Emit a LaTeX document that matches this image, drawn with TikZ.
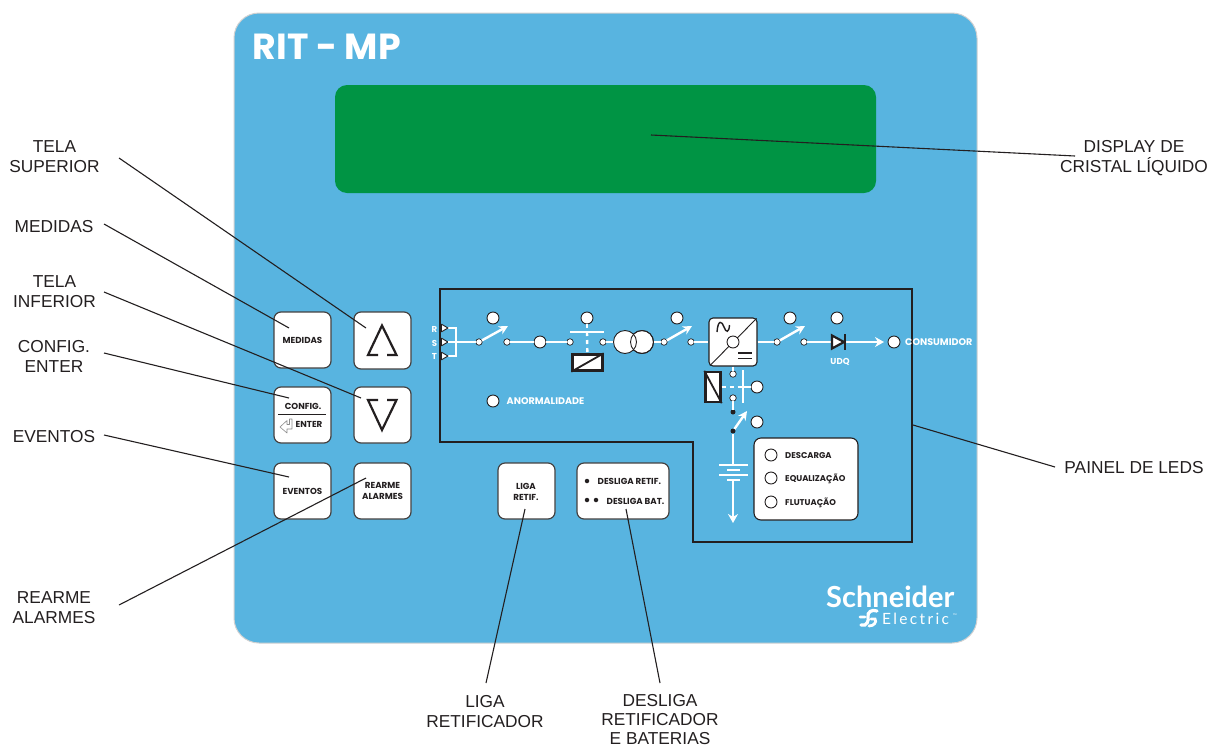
\documentclass[tikz,border=0pt]{standalone}
\usepackage{fontspec}
\setmainfont{Liberation Sans}
\newfontfamily\geo{Poppins}
\newfontfamily\latb{Lato}
\newfontfamily\lats{Lato}[LetterSpace=15]
\usetikzlibrary{arrows.meta}
\definecolor{panelblue}{RGB}{88,180,224}
\definecolor{dispgreen}{RGB}{0,148,68}
\definecolor{ink}{RGB}{35,31,32}
\tikzset{
  lbl/.style={align=center,font=\fontsize{17.3}{20}\selectfont,text=ink,inner sep=0pt},
  leader/.style={draw=ink,line width=1.1pt},
  btn/.style={draw=ink!85,line width=1.2pt,fill=white,rounded corners=7pt},
  btxt/.style={font=\geo\bfseries\fontsize{8.7}{11}\selectfont,text=ink,align=center,inner sep=0pt},
  wtxt/.style={font=\geo\bfseries\fontsize{9.6}{10}\selectfont,text=white,inner sep=0pt},
  wsmall/.style={font=\geo\bfseries\fontsize{8.6}{10}\selectfont,text=white,inner sep=0pt},
  ledtxt/.style={font=\geo\bfseries\fontsize{8.4}{10}\selectfont,text=ink,inner sep=0pt,anchor=west},
  lamp/.style={circle,draw=ink,line width=.9pt,fill=white,minimum size=12pt,inner sep=0pt,outer sep=0pt},
  term/.style={circle,draw=ink,line width=.7pt,fill=white,minimum size=6.5pt,inner sep=0pt,outer sep=0pt},
  bdot/.style={circle,fill=ink,minimum size=5pt,inner sep=0pt,outer sep=0pt},
  wire/.style={draw=white,line width=2.4pt},
  dashwire/.style={draw=white,line width=2.4pt,dash pattern=on 4pt off 4pt},
  arm/.style={draw=white,line width=2.4pt,-{Stealth[length=9pt,width=9pt]}},
  relay/.style={draw=ink,line width=2.4pt,fill=white},
  glyph/.style={draw=ink,line width=2.2pt,line join=miter}
}
\begin{document}
\begin{tikzpicture}[x=1pt,y=-1pt]
\useasboundingbox (0,0) rectangle (1209,747);
\fill[white] (0,0) rectangle (1209,747);
% panel
\node[draw=black!18,line width=1pt,fill=panelblue,rounded corners=25pt,minimum width=743pt,minimum height=630pt,inner sep=0pt] (panel) at (605.5,328) {};
\node[fill=dispgreen,rounded corners=12pt,minimum width=541pt,minimum height=108pt,inner sep=0pt] (display) at (605.5,139) {};
\node[anchor=west,inner sep=0pt,text=white,font=\geo\bfseries\fontsize{36.3}{40}\selectfont] (title) at (252.5,46.5) {RIT - MP};
% LED outline
\draw[ink,line width=1.15pt] (440,289) -- (912,289) -- (912,542) -- (693,542) -- (693,442) -- (440,442) -- cycle;
% buttons
\node[btn,minimum width=57pt,minimum height=56pt] (bmed) at (302.5,340) {};
\node[btxt] at (bmed) {MEDIDAS};
\node[btn,minimum width=57pt,minimum height=57pt] (bup) at (382.5,340.5) {};
\node[btn,minimum width=57pt,minimum height=56pt] (bcfg) at (302.5,415) {};
\node[btn,minimum width=57pt,minimum height=56pt] (bdown) at (382.5,415) {};
\node[btn,minimum width=57pt,minimum height=56pt] (bev) at (302.5,491) {};
\node[btxt] at (bev) {EVENTOS};
\node[btn,minimum width=57pt,minimum height=56pt] (brea) at (382.5,491) {};
\node[btxt] at (brea) {REARME\\ALARMES};
\node[btn,minimum width=57pt,minimum height=56pt] (bliga) at (526.5,491) {};
\node[btxt] at (526,491.5) {LIGA\\RETIF.};
\node[btn,minimum width=92pt,minimum height=56pt] (bdes) at (623,491) {};
\node[btxt,anchor=west] (des1) at (597.5,481.5) {DESLIGA RETIF.};
\node[btxt,anchor=west] (des2) at (606.5,501) {DESLIGA BAT.};
\node[bdot,minimum size=4.5pt] at (587,481) {};
\node[bdot,minimum size=4.5pt] at (587,500) {};
\node[bdot,minimum size=4.5pt] at (596,500) {};
\draw[glyph] (378,355) -- (368,355) -- (382,325.5) -- (396.5,355) -- (387,355);
\draw[glyph] (378,400) -- (368,400) -- (382,430) -- (396.5,400) -- (387,400);
\node[btxt] at (303,406) {CONFIG.};
\draw[ink,line width=1pt] (278,414) -- (326,414);
\node[btxt] at (309,424.5) {ENTER};
\draw[black!45,line width=.6pt,line join=round] (280,427) -- (287,420.5) -- (287,424.5) -- (289.5,424.5) -- (289.5,419) -- (292,419) -- (292,429) -- (287,429) -- (287,433) -- cycle;
% RST
\node[wsmall] at (434.5,329) {R};
\node[wsmall] at (434.5,343) {S};
\node[wsmall] at (434.5,356.5) {T};
\draw[white,line width=2pt] (447,328) -- (455.5,328) -- (455.5,356) -- (447,356);
\coordinate (rst) at (448,342);
\draw[wire] (rst) -- (470,342);
\foreach \yy in {328,342,356}{
  \draw[ink,fill=white,line width=.9pt,line join=round] (441.5,\yy-3.8) -- (448,\yy) -- (441.5,\yy+3.8) -- cycle;
}
% terminals and lamps
\node[term] (t1) at (479,342) {};
\node[term] (t2) at (507,342) {};
\node[lamp] (l1) at (493,318) {};
\node[lamp] (l2) at (540,342) {};
\node[term] (t3) at (570,342) {};
\node[term] (t4) at (603,342) {};
\node[lamp] (l3) at (587,318) {};
\node[term] (t5) at (664,342) {};
\node[term] (t6) at (691,342) {};
\node[lamp] (l4) at (677,318) {};
\draw[wire] (rst) -- (t1);
\draw[wire] (t2) -- (l2);
\draw[wire] (l2) -- (t3);
\coordinate (a1) at (508,326);
\draw[arm] (t1) -- (a1);
\coordinate (a2) at (692,326);
\draw[arm] (t5) -- (a2);
% contactor
\coordinate (barL) at (570,332);
\coordinate (barR) at (604,332);
\coordinate (barM) at (587,332);
\draw[wire] (barL) -- (barR);
\node[relay,minimum width=30pt,minimum height=16pt,inner sep=0pt] (rel1) at (587.5,362.5) {};
\draw[ink,line width=1.8pt] (rel1.south west) -- (rel1.north east);
\draw[dashwire] (l3) -- (barM);
\draw[dashwire] (barM) -- (rel1);
% transformer
\node[circle,draw=ink,line width=.9pt,fill=white,minimum size=23pt,inner sep=0pt] (tr2) at (642,342) {};
\node[circle,draw=ink,line width=.9pt,fill=white,minimum size=23pt,inner sep=0pt] (tr1) at (625,342) {};
\draw[ink,line width=.9pt] (tr2) circle[radius=11.5pt];
\draw[wire] (t4) -- (tr1);
\draw[wire] (tr2) -- (t5);
% converter
\node[draw=ink,line width=1.1pt,fill=white,rounded corners=4pt,minimum size=48pt,inner sep=0pt] (conv) at (733,342) {};
\draw[ink,line width=.9pt] (710,365.5) -- (756.5,318.5);
\node[lamp,minimum size=12pt] (cc) at (733,342) {};
\draw[ink,line width=1.4pt] (717,332) .. controls (718,319) and (722,321) .. (724,327) .. controls (726,333) and (729,333) .. (729.5,325);
\draw[ink,line width=1.8pt] (738,353) -- (752,353) (738,358.5) -- (752,358.5);
\draw[wire] (t6) -- (conv);
\node[term] (t7) at (777,342) {};
\node[term] (t8) at (804,342) {};
\node[lamp] (l5) at (790,318) {};
\draw[wire] (conv) -- (t7);
\coordinate (a3) at (805,326);
\draw[arm] (t7) -- (a3);
% diode
\node[inner sep=0pt,minimum size=0pt] (dioA) at (831,342) {};
\node[inner sep=0pt,minimum size=0pt] (dioK) at (845,342) {};
\node[lamp] (l6) at (837,318) {};
\node[lamp] (l7) at (894,342) {};
\coordinate (endarrow) at (884,342);
\draw[wire] (t8) -- (dioA);
\draw[wire,-{Stealth[length=9pt,width=10pt]}] (dioK) -- (endarrow);
\draw[ink,fill=white,line width=2.2pt,line join=miter] (832,335.5) -- (844,342) -- (832,348.5) -- cycle;
\draw[ink,line width=2.4pt] (845,334) -- (845,350);
\node[wsmall] at (840,361.5) {UDQ};
\node[wtxt,anchor=west] at (905,342.5) {CONSUMIDOR};
\node[wtxt,anchor=west] at (506.5,401.5) {ANORMALIDADE};
\node[lamp] (l8) at (493,401) {};
% battery branch
\node[term] (t9) at (733,374) {};
\node[term] (t10) at (733,398) {};
\node[bdot] (d1) at (733,412) {};
\node[bdot] (d2) at (733,431) {};
\draw[wire] (conv) -- (t9);
\draw[wire] (t10) -- (d1);
\coordinate (a4) at (747,411);
\draw[arm] (d2) -- (a4);
\node[lamp] (l9) at (757,387) {};
\node[lamp] (l10) at (757,422) {};
\coordinate (v1) at (743,370);
\coordinate (v2) at (743,403);
\coordinate (vm) at (743,387);
\draw[wire] (v1) -- (v2);
\draw[wire] (vm) -- (l9);
\node[relay,minimum width=15pt,minimum height=30pt,inner sep=0pt] (rel2) at (713,387) {};
\draw[ink,line width=1.8pt] (rel2.north west) -- (rel2.south east);
\draw[dashwire] (rel2) -- (vm);
\coordinate (b1) at (733,465);
\coordinate (b2) at (733,479);
\coordinate (b3) at (733,523);
\draw[wire] (d2) -- (b1);
\draw[wire,-{Stealth[length=9pt,width=10pt]}] (b2) -- (b3);
\draw[white,line width=2pt] (719,465) -- (748,465) (727,470) -- (740,470) (719,475) -- (748,475) (727,479.5) -- (740,479.5);
% LED state box
\node[draw=ink,line width=1.1pt,fill=white,rounded corners=7pt,minimum width=104pt,minimum height=82pt,inner sep=0pt] (box) at (806,479) {};
\node[lamp] (s1) at (771,455) {};
\node[lamp] (s2) at (771,478) {};
\node[lamp] (s3) at (771,502) {};
\node[ledtxt] at (785,455.5) {DESCARGA};
\node[ledtxt] at (785,479) {EQUALIZAÇÃO};
\node[ledtxt] at (785,503) {FLUTUAÇÃO};
% logo
\node[anchor=base west,inner sep=0pt,text=white,font=\latb\bfseries\fontsize{29}{30}\selectfont] (sch) at (826,607.5) {Schneider};
\node[anchor=base west,inner sep=0pt,text=white,font=\lats\fontsize{15.5}{17}\selectfont] (ele) at (882,624) {Electric};
\node[anchor=base west,inner sep=0pt,text=white,font=\latb\fontsize{5}{6}\selectfont] at (953,617) {™};
\draw[white,line width=3.2pt,line cap=round] (861,625) .. controls (867,627) and (869,620) .. (868,617) .. controls (867,612) and (872,609) .. (877,611);
\draw[white,line width=2.8pt,line cap=round] (860,617) -- (865,617) (871,619) -- (875,619) .. controls (877,622) and (874,626) .. (869,626);
% callout labels
\node[lbl] (ltsup) at (54.5,156.5) {TELA\\SUPERIOR};
\node[lbl] (lmed) at (54,226.5) {MEDIDAS};
\node[lbl] (ltinf) at (54.5,291.5) {TELA\\INFERIOR};
\node[lbl] (lcfg) at (54,356.5) {CONFIG.\\ENTER};
\node[lbl] (lev) at (54,436.5) {EVENTOS};
\node[lbl] (lrea) at (54,607.5) {REARME\\ALARMES};
\node[lbl] (lliga) at (485,711.5) {LIGA\\RETIFICADOR};
\node[lbl,font=\fontsize{17.3}{18.6}\selectfont] (ldes) at (660,719.5) {DESLIGA\\RETIFICADOR\\E BATERIAS};
\node[lbl] (ldisp) at (1134,158) {DISPLAY DE\\CRISTAL LÍQUIDO};
\node[lbl] (lpan) at (1134,468) {PAINEL DE LEDS};
% leader ends
\coordinate (e1a) at (119,158); \coordinate (e1b) at (366,328);
\coordinate (e2a) at (104,224); \coordinate (e2b) at (289,328);
\coordinate (e3a) at (104,292); \coordinate (e3b) at (361,398);
\coordinate (e4a) at (104,353); \coordinate (e4b) at (289,398);
\coordinate (e5a) at (104,435); \coordinate (e5b) at (289,477);
\coordinate (e6a) at (119,605); \coordinate (e6b) at (366,478);
\coordinate (e7a) at (486,683); \coordinate (e7b) at (525,509);
\coordinate (e8a) at (660,683); \coordinate (e8b) at (626,509);
\coordinate (e9a) at (1075,156); \coordinate (e9b) at (651,135);
\coordinate (e10a) at (1055,467); \coordinate (e10b) at (913,425);
\foreach \n in {1,...,10}{\draw[leader] (e\n a) -- (e\n b);}
\end{tikzpicture}
\end{document}
